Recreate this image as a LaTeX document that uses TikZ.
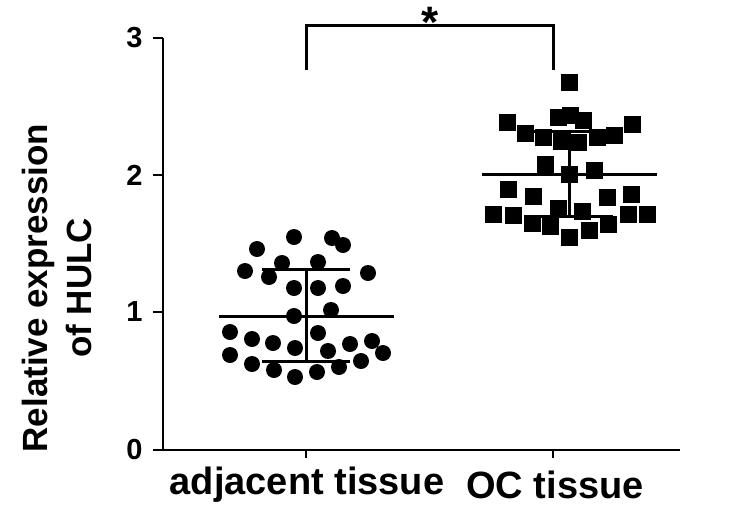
\documentclass[tikz,border=0pt]{standalone}
\usepackage{fontspec}
\setmainfont{Liberation Sans}
\tikzstyle{dot}=[circle,fill=black,minimum size=16pt,inner sep=0pt]
\tikzstyle{box}=[rectangle,fill=black,minimum size=17pt,inner sep=0pt]
\tikzstyle{bar}=[draw,line width=3pt]
\tikzstyle{axis}=[draw,line width=2.5pt]
\tikzstyle{ticklabel}=[font=\bfseries\fontsize{29}{29}\selectfont, left]
\begin{document}
\begin{tikzpicture}[x=1pt, y=-1pt]
    \useasboundingbox (0,0) rectangle (750,512);
    % Axes
    \coordinate (O) at (163,450);
    \coordinate (Ytop) at (163,38);
    \coordinate (Xend) at (680,450);
    \path[axis] (Ytop) -- (O) -- (Xend);
    \foreach \y/\lab in {450/0,312/1,175/2,38/3}{
        \coordinate (t\lab) at (163,\y);
        \path[axis] (t\lab) -- ++(-10,0);
        \node[ticklabel] (l\lab) at (146,\y) {\lab};
    }
    \foreach \x/\n in {306/a,553/b}{
        \coordinate (x\n) at (\x,450);
        \path[axis] (x\n) -- ++(0,8);
    }
    \node[font=\bfseries\fontsize{38}{38}\selectfont] (adj) at (307,485) {adjacent tissue};
    \node[font=\bfseries\fontsize{38}{38}\selectfont] (oc) at (555,485) {OC tissue};
    \node[font=\bfseries\fontsize{35}{44}\selectfont, rotate=90, align=center] (ylab) at (57,288) {Relative expression\\of HULC};
    % Adjacent tissue
    \foreach \x/\y [count=\i] in {294/237,257/249,332/238,343/245,282/263,318/262,245/271,269/277,
        368/273,294/288,318/288,343/286,294/316,331/310,230/332,252/339,273/343,318/333,
        295/348,328/351,350/344,372/341,230/355,252/364,274/370,295/377,317/372,339/367,361/361,383/353}
    \node[dot] (a\i) at (\x,\y) {};
    % OC tissue
    \foreach \x/\y [count=\i] in {569/82,507/122,558/117,570/115,583/120,632/124,525/133,543/137,
        561/141,578/142,597/137,614/135,545/164,569/174,594/170,508/189,533/196,607/197,
        631/194,493/214,513/215,558/208,582/211,532/223,550/226,569/237,589/230,608/224,628/214,647/214}
    \node[box] (b\i) at (\x,\y) {};
    % Mean and SD
    \path[bar] (219,316) -- (394,316);
    \path[bar] (262,269) -- (350,269);
    \path[bar] (262,361) -- (350,361);
    \path[bar] (306,269) -- (306,361);
    \path[bar] (482,174) -- (657,174);
    \path[bar] (525,131) -- (613,131);
    \path[bar] (525,216) -- (613,216);
    \path[bar] (569,131) -- (569,216);
    % Significance
    \coordinate (s1) at (306,70);
    \coordinate (s2) at (553,70);
    \path[bar] (s1) -- (306,25) -- (553,25) -- (s2);
    \node[font=\bfseries\fontsize{44}{44}\selectfont] (star) at (430,22) {*};
\end{tikzpicture}
\end{document}
